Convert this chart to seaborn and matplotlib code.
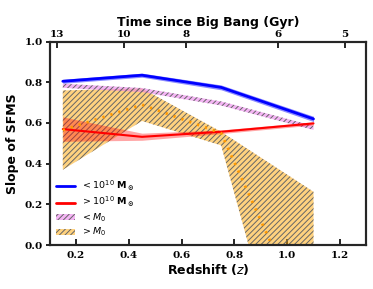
import numpy as np
import pandas as pd
import matplotlib
matplotlib.use("Agg")
import matplotlib.pyplot as plt
import seaborn as sns
from matplotlib.patches import Patch
from matplotlib.lines import Line2D

# ---- data ----
z = [0.15, 0.45, 0.75, 1.1]

blue_mid = [0.805, 0.835, 0.775, 0.62]
blue_lo = [0.795, 0.825, 0.763, 0.607]
blue_hi = [0.815, 0.845, 0.787, 0.633]

red_mid = [0.57, 0.532, 0.557, 0.598]
red_lo = [0.51, 0.515, 0.548, 0.59]
red_hi = [0.63, 0.55, 0.566, 0.606]

pink_mid = [0.783, 0.762, 0.696, 0.576]
pink_lo = [0.773, 0.752, 0.686, 0.566]
pink_hi = [0.793, 0.772, 0.706, 0.586]

orange_mid = [0.565, 0.69, 0.55, -0.45]
orange_lo = [0.37, 0.61, 0.49, -1.16]
orange_hi = [0.76, 0.77, 0.557, 0.262]

top_ticks_z = [0.128, 0.382, 0.617, 0.965, 1.219]
top_tick_labels = ["13", "10", "8", "6", "5"]

sns.set_theme(style="white")
plt.rcParams['font.family'] = ['DejaVu Sans']
plt.rcParams['mathtext.fontset'] = 'dejavusans'
plt.rcParams['hatch.linewidth'] = 0.7
for k in ['text.color', 'axes.labelcolor', 'xtick.color', 'ytick.color']:
    plt.rcParams[k] = 'black'

fig = plt.figure(figsize=(3.73, 2.89), dpi=100)
ax = fig.add_axes([0.133, 0.152, 0.849, 0.704])

df = pd.DataFrame({
    "z": z * 4,
    "slope": blue_mid + red_mid + pink_mid + orange_mid,
    "grp": ["blue"] * 4 + ["red"] * 4 + ["pink"] * 4 + ["orange"] * 4,
})

orange_fc = (1.0, 0.65, 0.0, 0.5)
pink_fc = (0.93, 0.51, 0.93, 0.6)

# bands
ax.fill_between(z, orange_lo, orange_hi, facecolor=orange_fc,
                edgecolor='0.4', hatch='//////', linewidth=0, zorder=1)
ax.fill_between(z, pink_lo, pink_hi, facecolor=pink_fc,
                edgecolor='0.4', hatch='//////', linewidth=0, zorder=2)
ax.fill_between(z, red_lo, red_hi, facecolor=(1.0, 0.0, 0.0, 0.35),
                linewidth=0, zorder=3)
ax.fill_between(z, blue_lo, blue_hi, facecolor=(0.0, 0.0, 1.0, 0.45),
                linewidth=0, zorder=3)

sns.lineplot(data=df[df.grp == "blue"], x="z", y="slope", color="blue",
             lw=2, ax=ax, zorder=4, legend=False)
sns.lineplot(data=df[df.grp == "red"], x="z", y="slope", color="red",
             lw=1.5, ax=ax, zorder=4, legend=False)
sns.lineplot(data=df[df.grp == "orange"], x="z", y="slope", color="#ff9900",
             lw=2.0, ax=ax, zorder=5, legend=False)
ax.lines[-1].set_linestyle((0, (0.8, 2.2)))

ax.set_xlim(0.1, 1.3)
ax.set_ylim(0.0, 1.0)
ax.set_xticks([0.2, 0.4, 0.6, 0.8, 1.0, 1.2])
ax.set_yticks([0.0, 0.2, 0.4, 0.6, 0.8, 1.0])
ax.set_xlabel("Redshift ($z$)", fontsize=9, fontweight='bold', labelpad=2)
ax.set_ylabel("Slope of SFMS", fontsize=9, fontweight='bold', labelpad=4)
for lab in ax.get_xticklabels() + ax.get_yticklabels():
    lab.set_family("DejaVu Serif")
    lab.set_fontsize(7.5)
    lab.set_fontweight('bold')
ax.tick_params(axis='x', direction='in', length=4, width=1.2, bottom=True, pad=4)
ax.tick_params(axis='y', direction='out', length=3, width=1.2, left=True, pad=2)
for s in ax.spines.values():
    s.set_linewidth(1.5)
    s.set_color('black')

ax2 = ax.twiny()
ax2.set_xlim(ax.get_xlim())
ax2.set_xticks(top_ticks_z)
ax2.set_xticklabels(top_tick_labels, family="DejaVu Serif", fontsize=7.5,
                    fontweight='bold')
ax2.tick_params(axis='x', direction='in', length=4, width=1.2, top=True, pad=2)
ax2.set_xlabel("Time since Big Bang (Gyr)", fontsize=9, fontweight='bold',
               labelpad=3)
for s in ax2.spines.values():
    s.set_linewidth(1.5)

handles = [
    Line2D([], [], color='blue', lw=2),
    Line2D([], [], color='red', lw=2),
    Patch(facecolor=pink_fc, edgecolor='0.4', hatch='//////', lw=0),
    Patch(facecolor=orange_fc, edgecolor='0.4', hatch='//////', lw=0),
]
labels = [r"$<10^{10}$ $\mathbf{M_\odot}$", r"$>10^{10}$ $\mathbf{M_\odot}$",
          r"$<M_0$", r"$>M_0$"]
ax.legend(handles, labels, loc='lower left', frameon=False, fontsize=6.8,
          handlelength=2.0, handleheight=0.6, handletextpad=0.6,
          labelspacing=0.22, borderaxespad=0.3, bbox_to_anchor=(0.0, 0.0))

fig.savefig("out.png", dpi=100)
